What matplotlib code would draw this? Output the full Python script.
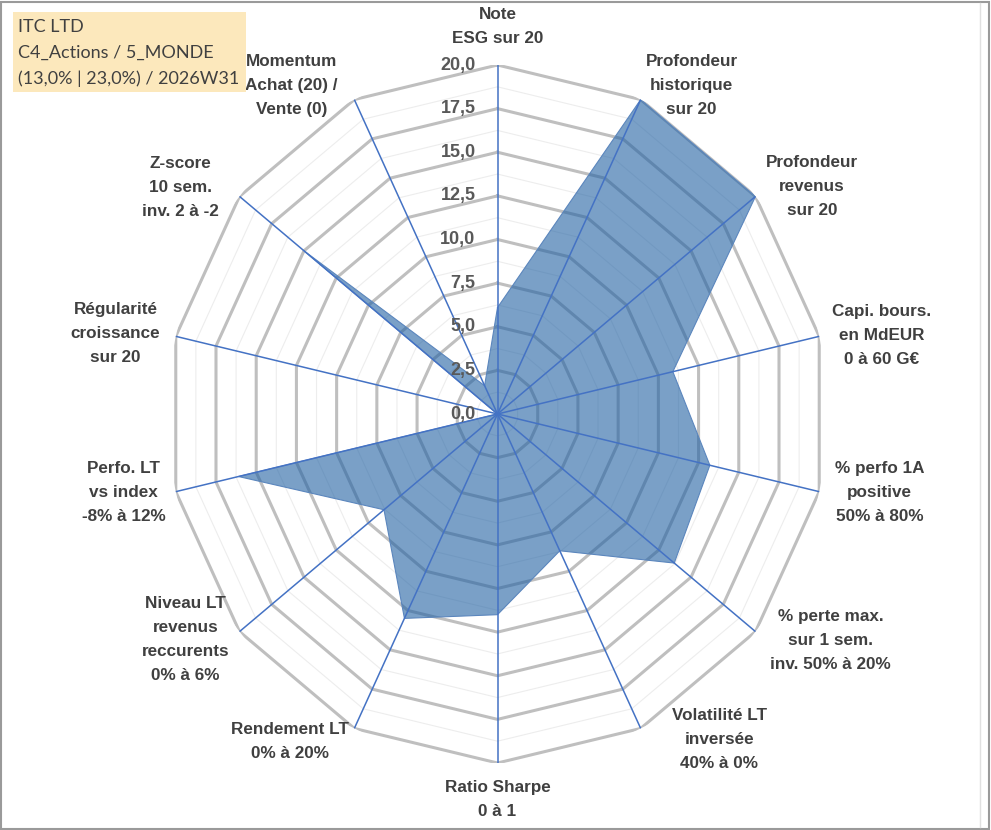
import numpy as np
import matplotlib
matplotlib.use("Agg")
import matplotlib.pyplot as plt
from matplotlib.patches import Rectangle
from matplotlib.transforms import offset_copy

# donnees (echelle 0 a 20)
labels = ["Note\nESG sur 20",
          "Profondeur\nhistorique\nsur 20",
          "Profondeur\nrevenus\nsur 20",
          "Capi. bours.\nen MdEUR\n0 à 60 G€",
          "% perfo 1A\npositive\n50% à 80%",
          "% perte max.\nsur 1 sem.\ninv. 50% à 20%",
          "Volatilité LT\ninversée\n40% à 0%",
          "Ratio Sharpe\n0 à 1",
          "Rendement LT\n0% à 20%",
          "Niveau LT\nrevenus\nreccurents\n0% à 6%",
          "Perfo. LT\nvs index\n-8% à 12%",
          "Régularité\ncroissance\nsur 20",
          "Z-score\n10 sem.\ninv. 2 à -2",
          "Momentum\nAchat (20) /\nVente (0)"]
values = [6.1, 20.0, 20.0, 10.9, 13.2, 13.7, 8.7, 11.5, 13.0, 8.8, 16.1, 0.0, 15.0, 1.8]
ticks = [0.0, 2.5, 5.0, 7.5, 10.0, 12.5, 15.0, 17.5, 20.0]
title_lines = ["ITC LTD", "C4_Actions / 5_MONDE", "(13,0% | 23,0%) / 2026W31"]

# position des etiquettes (mise en page) : angle en degres et rayon
lab_deg = [0, 32.0, 55.6, 79.0, 101.0, 122.7, 144.2, 180, 213.9, 235.6, 258.7, 281.3, 304.0, 326.5]
lab_r = [22.2, 22.2, 23.1, 23.7, 23.6, 24.0, 23.0, 22.1, 22.6, 22.9, 23.1, 23.6, 23.2, 22.6]

W, H = 991, 830
fig = plt.figure(figsize=(W / 100, H / 100), dpi=100)
fig.patch.set_facecolor("white")

# centre (497.5, 414) px, rayon x 330 px, rayon y 349 px
ax = fig.add_axes([(497.5 - 330) / W, (H - 414 - 349) / H, 660 / W, 698 / H], projection="polar")
ax.set_aspect("auto")
ax.set_theta_zero_location("N")
ax.set_theta_direction(-1)
ax.set_ylim(0, 20)
ax.grid(False)
ax.spines["polar"].set_visible(False)
ax.set_xticks([])
ax.set_yticks([])
ax.patch.set_visible(False)

n = len(labels)
theta = np.arange(n) * 2 * np.pi / n
theta_c = np.append(theta, theta[0])

# grille polygonale
for r in np.arange(1.25, 20, 2.5):
    ax.plot(theta_c, [r] * (n + 1), color="#EDEDED", lw=0.8, zorder=1)
for r in ticks[1:]:
    ax.plot(theta_c, [r] * (n + 1), color="#BFBFBF", lw=2.2, zorder=2)

# zone remplie
vals_c = np.append(values, values[0])
ax.fill(theta_c, vals_c, facecolor="#2161A3", alpha=0.6, edgecolor="none", zorder=3)
ax.plot(theta_c, vals_c, color="#5B86BD", lw=0.8, zorder=3)

# rayons
for t in theta:
    ax.plot([t, t], [0, 20], color="#4472C4", lw=1.1, zorder=4)

# graduations
tr = offset_copy(ax.transData, fig=fig, x=-22, y=0, units="dots")
for v in ticks:
    ax.text(0, v, f"{v:.1f}".replace(".", ","), transform=tr, ha="right", va="center",
            fontsize=13, fontweight="bold", color="#595959", family="Liberation Sans", zorder=5)

# etiquettes des axes
for lab, d, rr in zip(labels, lab_deg, lab_r):
    ax.text(np.deg2rad(d), rr, lab, ha="center", va="center", fontsize=12.3, fontweight="bold",
            color="#404040", family="Liberation Sans", linespacing=1.75)

# cartouche titre
fig.patches.append(Rectangle((13 / W, 1 - 92 / H), 233 / W, 80 / H, transform=fig.transFigure,
                             facecolor="#FCE8BC", edgecolor="none", zorder=0))
for i, s in enumerate(title_lines):
    fig.text(18 / W, 1 - (27 + 26 * i) / H, s, ha="left", va="center", fontsize=13,
             color="#404040", family="Lato")

# cadre
fig.patches.append(Rectangle((1 / W, 1 / H), 988 / W, 827 / H, transform=fig.transFigure,
                             facecolor="none", edgecolor="#9A9A9A", lw=1.5))
fig.lines.append(plt.Line2D([980 / W, 980 / W], [3 / H, 1 - 3 / H], transform=fig.transFigure,
                            color="#E0E0E0", lw=1))

fig.savefig("out.png", dpi=100)
